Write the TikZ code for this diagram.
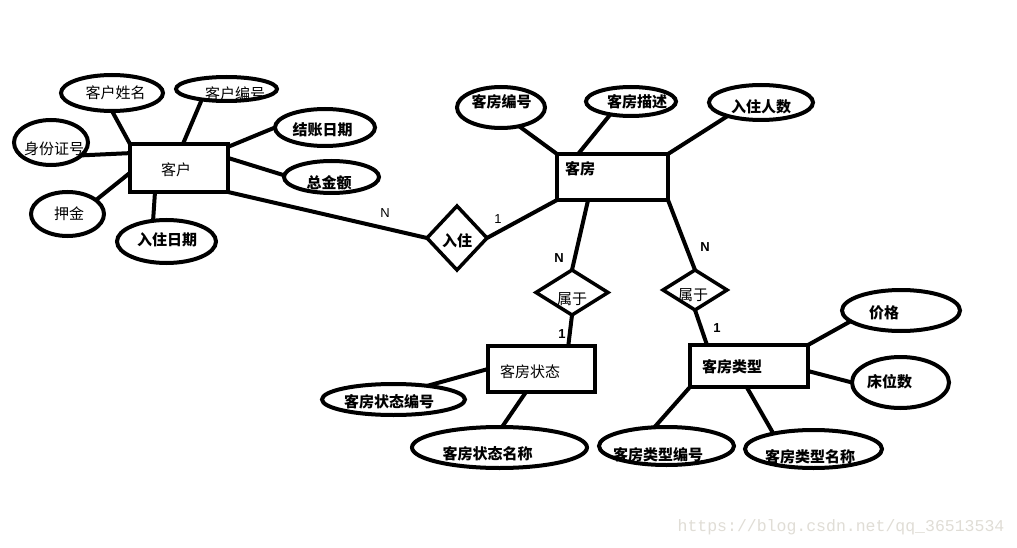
\documentclass[tikz,border=0pt]{standalone}
\usepackage{fontspec}
\setmainfont{Liberation Sans}
\newfontfamily\cjk{Noto Sans CJK SC}
\newfontfamily\wmfont{Liberation Mono}
\usetikzlibrary{shapes.geometric,calc}
\tikzset{
  attr/.style={draw, ellipse, line width=4pt, inner sep=0pt, outer sep=0pt},
  ent/.style={draw, rectangle, line width=4pt, inner sep=0pt, outer sep=0pt},
  rel/.style={draw, diamond, line width=3.5pt, inner sep=0pt, outer sep=0pt},
  ln/.style={line width=4pt},
  lab/.style={inner sep=0pt, font=\cjk\fontsize{15}{15}\selectfont},
  labb/.style={inner sep=0pt, font=\cjk\bfseries\fontsize{15}{15}\selectfont},
  card/.style={inner sep=0pt, font=\fontsize{13}{13}\selectfont},
  cardb/.style={inner sep=0pt, font=\bfseries\fontsize{13}{13}\selectfont}
}
\begin{document}
\begin{tikzpicture}[x=1pt,y=-1pt]
\useasboundingbox[fill=white] (0,0) rectangle (1017,548);
% entities
\node[ent, minimum width=98pt, minimum height=48pt] (K) at (179,168) {};
\node[ent, minimum width=111pt, minimum height=46pt] (KF) at (612.5,177) {};
\node[ent, minimum width=107pt, minimum height=46pt] (ST) at (541.5,369) {};
\node[ent, minimum width=118pt, minimum height=42pt] (KT) at (749,366) {};
% relations
\node[rel, minimum width=60pt, minimum height=64pt] (R1) at (457,238) {};
\node[rel, minimum width=72pt, minimum height=45pt] (S1) at (572,292.5) {};
\node[rel, minimum width=64pt, minimum height=40pt] (S2) at (695,290) {};
% attributes
\node[attr, minimum width=102pt, minimum height=36pt] (A1) at (112,93) {};
\node[attr, minimum width=101pt, minimum height=24pt] (A2) at (226.5,89) {};
\node[attr, minimum width=100pt, minimum height=37pt] (A3) at (325,127.5) {};
\node[attr, minimum width=74pt, minimum height=45pt] (A4) at (51,142.5) {};
\node[attr, minimum width=95pt, minimum height=32pt] (A5) at (331.5,177) {};
\node[attr, minimum width=73pt, minimum height=44pt] (A6) at (67.5,214) {};
\node[attr, minimum width=99pt, minimum height=43pt] (A7) at (166.5,241.5) {};
\node[attr, minimum width=88pt, minimum height=41pt] (B1) at (501,107.5) {};
\node[attr, minimum width=90pt, minimum height=29pt] (B2) at (631,101.5) {};
\node[attr, minimum width=104pt, minimum height=35pt] (B3) at (761,102.5) {};
\node[attr, minimum width=143pt, minimum height=31pt] (C1) at (393.5,399.5) {};
\node[attr, minimum width=175pt, minimum height=41pt] (C2) at (499.5,447.5) {};
\node[attr, minimum width=118pt, minimum height=41pt] (D1) at (901,310.5) {};
\node[attr, minimum width=97pt, minimum height=51pt] (D2) at (900.5,382.5) {};
\node[attr, minimum width=135pt, minimum height=38pt] (D3) at (666.5,446) {};
\node[attr, minimum width=137pt, minimum height=38pt] (D4) at (813.5,449) {};
% texts
\node[lab] (tK) at (176,170) {客户};
\node[labb] (tKF) at (580,168.5) {客房};
\node[lab] (tST) at (530,371.5) {客房状态};
\node[labb] (tKT) at (732,366.5) {客房类型};
\node[labb] (tR1) at (457,241) {入住};
\node[lab] (tS1) at (572,299) {属于};
\node[lab] (tS2) at (693,295) {属于};
\node[lab] (tA1) at (115.5,93) {客户姓名};
\node[lab] (tA2) at (235,94) {客户编号};
\node[labb] (tA3) at (322.5,129.5) {结账日期};
\node[lab] (tA4) at (54,148.5) {身份证号};
\node[labb] (tA5) at (329,183) {总金额};
\node[lab] (tA6) at (69,213.5) {押金};
\node[labb] (tA7) at (167,240) {入住日期};
\node[labb] (tB1) at (501.5,102) {客房编号};
\node[labb] (tB2) at (637,101.5) {客房描述};
\node[labb] (tB3) at (761,106.5) {入住人数};
\node[labb] (tC1) at (389,401.5) {客房状态编号};
\node[labb] (tC2) at (487.5,453.5) {客房状态名称};
\node[labb] (tD1) at (884,312.5) {价格};
\node[labb] (tD2) at (889.5,381.5) {床位数};
\node[labb] (tD3) at (658,455) {客房类型编号};
\node[labb] (tD4) at (810,456.5) {客房类型名称};
% cardinalities
\node[card] (n1) at (385,213) {N};
\node[card] (o1) at (498,219) {1};
\node[cardb] (n2) at (559,258) {N};
\node[cardb] (o2) at (562,334) {1};
\node[cardb] (n3) at (705,247) {N};
\node[cardb] (o3) at (717,328) {1};
% connectors
\draw[ln] (A1.south) -- (K.north west);
\draw[ln] (A2.-157) -- ($(K.north west)!0.54!(K.north east)$);
\draw[ln] (A3.west) -- ($(K.north east)!0.06!(K.south east)$);
\draw[ln] (A4.-23) -- ($(K.north west)!0.19!(K.south west)$);
\draw[ln] (A5.178) -- ($(K.north east)!0.29!(K.south east)$);
\draw[ln] (A6.26) -- ($(K.north west)!0.6!(K.south west)$);
\draw[ln] (A7.123) -- ($(K.south west)!0.255!(K.south east)$);
\draw[ln] (K.south east) -- (R1.west);
\draw[ln] (KF.south west) -- (R1.east);
\draw[ln] (B1.-46) -- (KF.north west);
\draw[ln] (B2.-148) -- ($(KF.north west)!0.19!(KF.north east)$);
\draw[ln] (B3.-158) -- (KF.north east);
\draw[ln] ($(KF.south west)!0.28!(KF.south east)$) -- (S1.north);
\draw[ln] (S1.south) -- ($(ST.north west)!0.75!(ST.north east)$);
\draw[ln] (KF.south east) -- (S2.north);
\draw[ln] (S2.south) -- ($(KT.north west)!0.144!(KT.north east)$);
\draw[ln] (C1.22) -- (ST.west);
\draw[ln] (C2.83) -- ($(ST.south west)!0.355!(ST.south east)$);
\draw[ln] (KT.north east) -- (D1.-168);
\draw[ln] ($(KT.north east)!0.62!(KT.south east)$) -- (D2.west);
\draw[ln] (KT.south west) -- (D3.123);
\draw[ln] ($(KT.south west)!0.48!(KT.south east)$) -- (D4.159);
% watermark
\node[inner sep=0pt, text={rgb,255:red,224;green,221;blue,214}, font=\wmfont\fontsize{16.5}{16.5}\selectfont] (wm) at (841,527) {https://blog.csdn.net/qq\_36513534};
\end{tikzpicture}
\end{document}
